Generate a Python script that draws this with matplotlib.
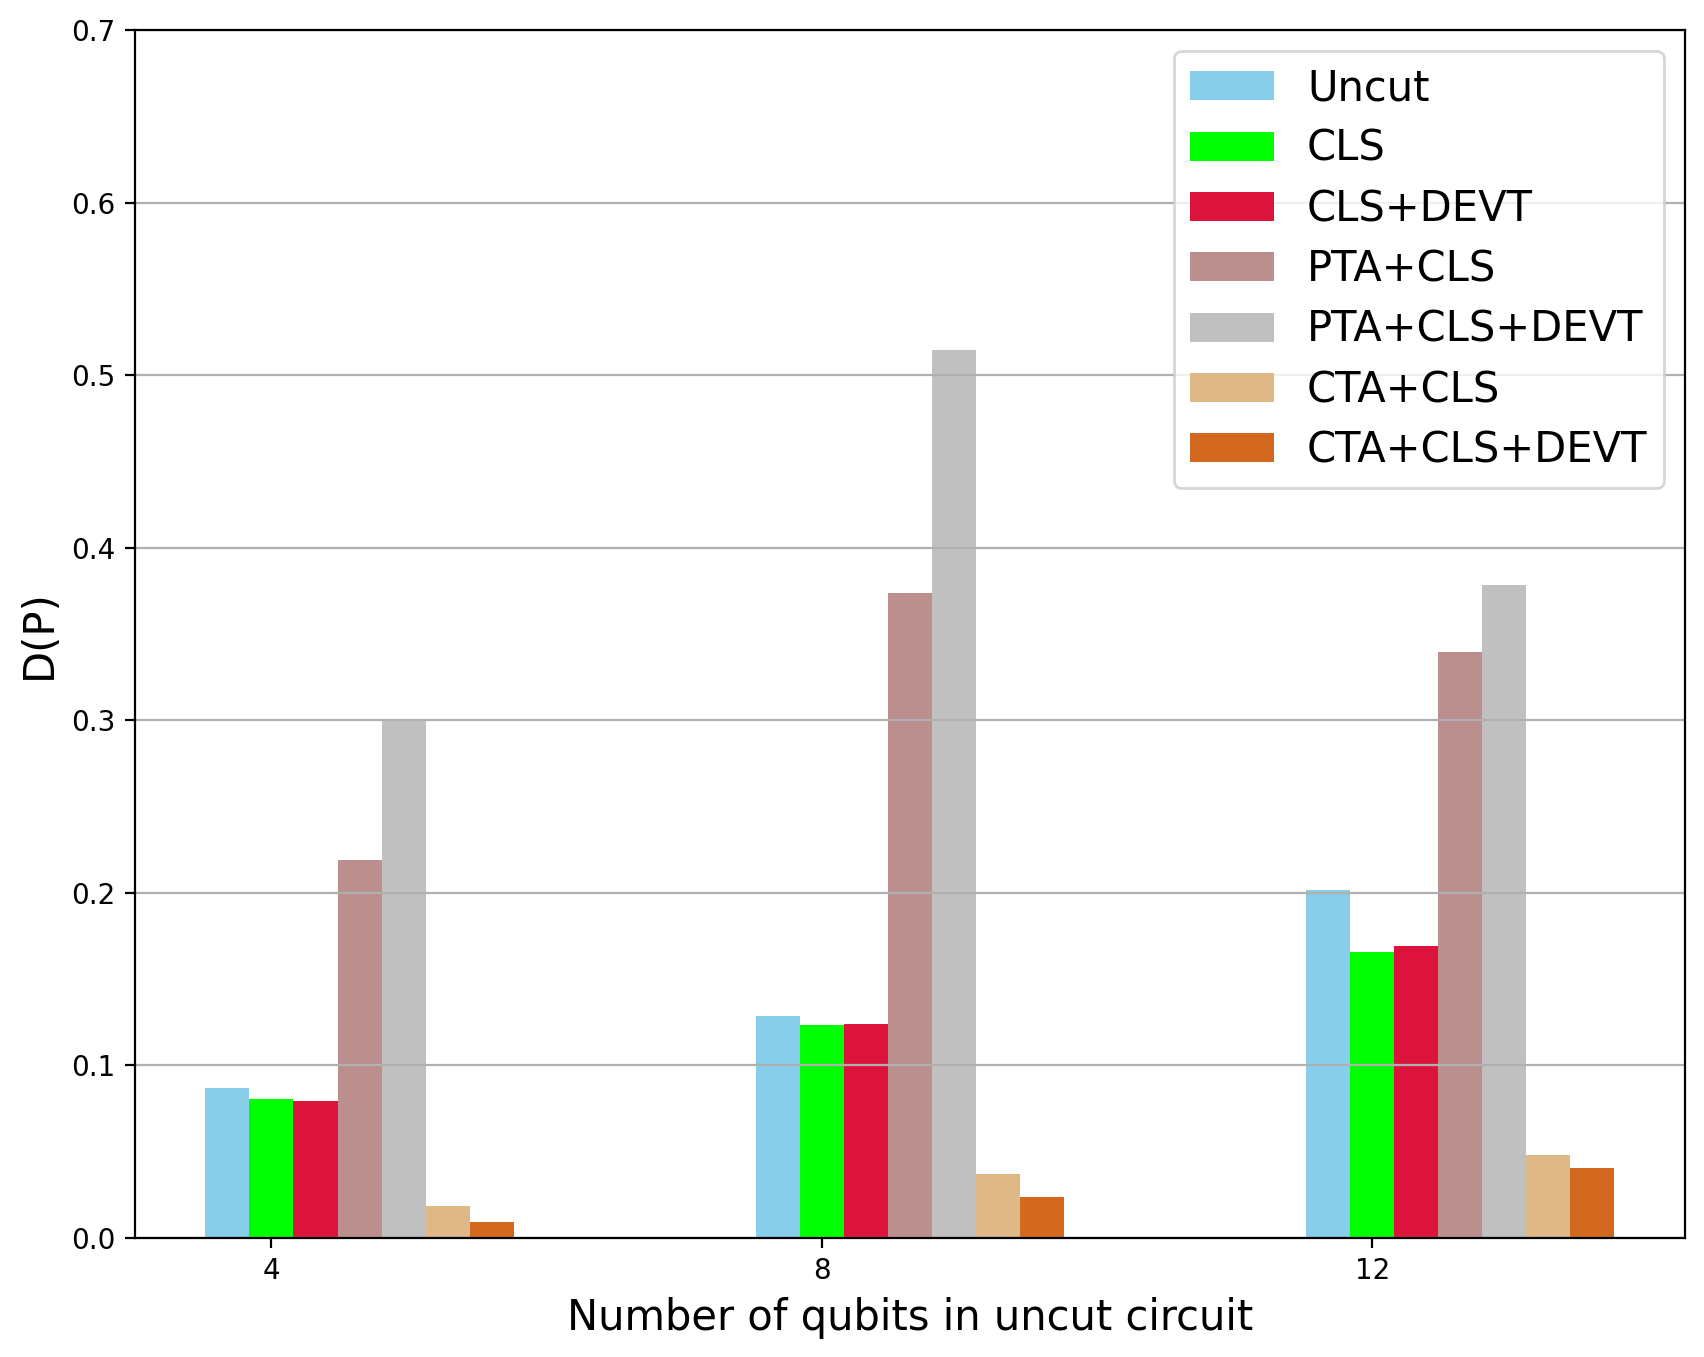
import matplotlib
matplotlib.use("Agg")
import matplotlib.pyplot as plt
import numpy as np

qubits = ["4", "8", "12"]
labels = ["Uncut", "CLS", "CLS+DEVT", "PTA+CLS", "PTA+CLS+DEVT", "CTA+CLS", "CTA+CLS+DEVT"]
colors = ["skyblue", "lime", "crimson", "rosybrown", "silver", "burlywood", "chocolate"]

uncut = [0.087, 0.1285, 0.2015]
cls = [0.0805, 0.1235, 0.1655]
cls_devt = [0.0795, 0.124, 0.169]
pta_cls = [0.219, 0.374, 0.3395]
pta_cls_devt = [0.2998, 0.5147, 0.3785]
cta_cls = [0.0183, 0.0372, 0.048]
cta_cls_devt = [0.0094, 0.0238, 0.0403]

series = [uncut, cls, cls_devt, pta_cls, pta_cls_devt, cta_cls, cta_cls_devt]

x = np.arange(len(qubits))
width = 0.08

fig, ax = plt.subplots(figsize=(8.52, 6.785), dpi=200)
for i, vals in enumerate(series):
    ax.bar(x + (i - 1) * width, vals, width, label=labels[i], color=colors[i])

ax.set_xticks(x)
ax.set_xticklabels(qubits)
ax.set_ylim(0, 0.7)
ax.yaxis.grid(True)
ax.set_xlabel("Number of qubits in uncut circuit", fontsize=15)
ax.set_ylabel("D(P)", fontsize=15)
ax.legend(loc="upper right", fontsize=15, labelspacing=0.44)
fig.subplots_adjust(left=0.0792, right=0.9888, top=0.9779, bottom=0.0877)
plt.savefig("out.png", dpi=200)
